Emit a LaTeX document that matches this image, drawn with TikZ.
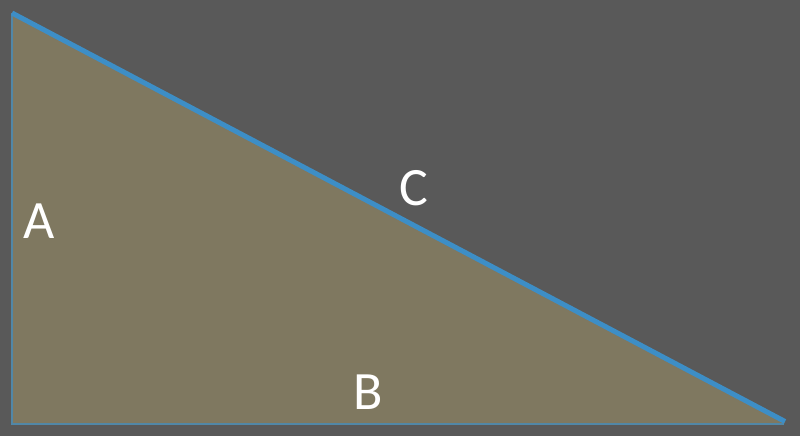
\documentclass[tikz,border=0pt]{standalone}
\usepackage{fontspec}
\setmainfont{Carlito}
\definecolor{bg}{HTML}{595959}
\definecolor{tri}{HTML}{7F7860}
\definecolor{edge}{HTML}{3D8EC6}
\begin{document}
\begin{tikzpicture}[x=1pt,y=1pt,
  lbl/.style={text=white,font=\fontsize{54}{54}\selectfont,inner sep=0pt,anchor=center}]
\fill[bg] (0,0) rectangle (800,436);
\useasboundingbox (0,0) rectangle (800,436);
\coordinate (p1) at (12,423);
\coordinate (p2) at (12,12);
\coordinate (p3) at (784,12);
\coordinate (q3) at (785,14.5);
\fill[tri] (p1) -- (p2) -- (p3) -- (q3) -- cycle;
\draw[edge!70!tri, line width=1.2pt] (p1) -- (p2) -- (p3);
\draw[edge, line width=5pt] (p1) -- (q3);
\node[lbl] (a) at (39,215) {A};
\node[lbl] (b) at (368,44) {B};
\node[lbl] (c) at (414,248) {C};
\end{tikzpicture}
\end{document}
